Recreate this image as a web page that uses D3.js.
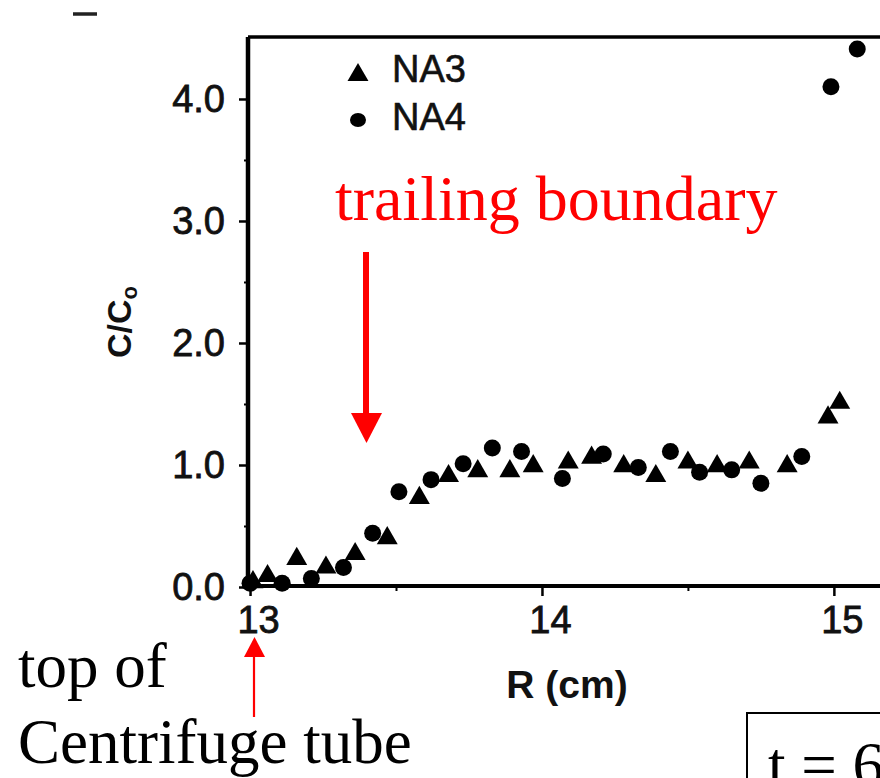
<!DOCTYPE html>
<html>
<head>
<meta charset="utf-8">
<script src="https://cdn.jsdelivr.net/npm/d3@7"></script>
<style>
  html, body { margin: 0; padding: 0; background: #fff; }
  svg { display: block; }
</style>
</head>
<body>
<svg id="chart" width="880" height="778"></svg>
<script>
// Radial position R (cm) and relative concentration C/Co for two samples
const na3R   = [13.01, 13.06, 13.16, 13.26, 13.36, 13.47, 13.58, 13.68, 13.78, 13.89, 13.97,
                14.09, 14.17, 14.28, 14.39, 14.50, 14.60, 14.71, 14.84, 14.98, 15.02];
const na3C   = [0.04, 0.09, 0.23, 0.16, 0.27, 0.40, 0.73, 0.91, 0.95, 0.95, 0.99,
                1.02, 1.06, 0.99, 0.91, 1.02, 0.99, 1.02, 0.99, 1.39, 1.51];
const na4R   = [13.00, 13.11, 13.21, 13.32, 13.42, 13.51, 13.62, 13.73, 13.83, 13.93,
                14.07, 14.21, 14.33, 14.44, 14.54, 14.65, 14.75, 14.89, 14.99, 15.08];
const na4C   = [0.03, 0.03, 0.07, 0.16, 0.44, 0.78, 0.88, 1.01, 1.14, 1.11,
                0.89, 1.09, 0.98, 1.11, 0.94, 0.96, 0.85, 1.07, 4.10, 4.41];

const yTicks      = [0, 1, 2, 3, 4];
const yMinorTicks = [0.5, 1.5, 2.5, 3.5];
const xTicks      = [13, 14, 15];
const xMinorTicks = [13.5, 14.5];
const seriesNames = ["NA3", "NA4"];

const svg = d3.select("#chart");
const sans = "'Liberation Sans', Arial, Helvetica, sans-serif";
const serif = "'Liberation Serif', 'Times New Roman', serif";

const x = d3.scaleLinear().domain([12.993, 15.158]).range([248, 880]);
const y = d3.scaleLinear().domain([0, 4.508]).range([587, 37]);

// Frame: left axis, bottom axis, top border
const frame = svg.append("g").attr("stroke", "#000").attr("fill", "none");
frame.append("line")
  .attr("x1", x.range()[0]).attr("x2", x.range()[0])
  .attr("y1", y.range()[0] + 1).attr("y2", y.range()[1])
  .attr("stroke-width", 4.5);
frame.append("line")
  .attr("x1", x.range()[0]).attr("x2", x.range()[1])
  .attr("y1", y(0) - 1).attr("y2", y(0) - 1)
  .attr("stroke-width", 4);
frame.append("line")
  .attr("x1", x.range()[0]).attr("x2", x.range()[1])
  .attr("y1", y.range()[1]).attr("y2", y.range()[1])
  .attr("stroke-width", 3.5);

// Y axis ticks and labels
const yAxis = d3.axisLeft(y).tickValues(yTicks).tickFormat(d3.format(".1f"))
  .tickSize(9).tickPadding(14).tickSizeOuter(0);
const gy = svg.append("g").attr("transform", `translate(${x.range()[0]},0)`).call(yAxis);
gy.select(".domain").remove();
gy.selectAll(".tick line").attr("stroke", "#000").attr("stroke-width", 2.5);
gy.selectAll(".tick text").attr("font-family", sans).attr("font-size", 38)
  .attr("fill", "#111").attr("stroke", "#111").attr("stroke-width", 0.8);
const yMinor = d3.axisLeft(y).tickValues(yMinorTicks).tickSize(4).tickFormat("").tickSizeOuter(0);
const gym = svg.append("g").attr("transform", `translate(${x.range()[0]},0)`).call(yMinor);
gym.select(".domain").remove();
gym.selectAll(".tick line").attr("stroke", "#000").attr("stroke-width", 2);

// X axis ticks and labels
const xAxis = d3.axisBottom(x).tickValues(xTicks).tickFormat(d3.format("d"))
  .tickSize(9).tickPadding(10).tickSizeOuter(0);
const gx = svg.append("g").attr("transform", `translate(0,${y(0)})`).call(xAxis);
gx.select(".domain").remove();
gx.selectAll(".tick line").attr("stroke", "#000").attr("stroke-width", 2.5);
gx.selectAll(".tick text").attr("font-family", sans).attr("font-size", 38)
  .attr("dx", 8).attr("fill", "#111").attr("stroke", "#111").attr("stroke-width", 0.8);
const xMinor = d3.axisBottom(x).tickValues(xMinorTicks).tickSize(4).tickFormat("").tickSizeOuter(0);
const gxm = svg.append("g").attr("transform", `translate(0,${y(0)})`).call(xMinor);
gxm.select(".domain").remove();
gxm.selectAll(".tick line").attr("stroke", "#000").attr("stroke-width", 2);

// Axis titles
svg.append("text")
  .attr("x", 567).attr("y", 698)
  .attr("text-anchor", "middle")
  .attr("font-family", sans).attr("font-size", 39).attr("font-weight", "bold")
  .attr("fill", "#111")
  .text("R (cm)");

const yTitle = svg.append("text")
  .attr("transform", "translate(131,322) rotate(-90)")
  .attr("text-anchor", "middle")
  .attr("font-family", sans).attr("font-size", 34).attr("font-weight", "bold")
  .attr("fill", "#111");
yTitle.append("tspan").text("C/C");
yTitle.append("tspan").attr("font-size", 22).attr("dy", 6).text("o");

// Data markers
const triangle = d3.symbol().type(d3.symbolTriangle).size(190);
const plot = svg.append("g");
plot.selectAll("path.na3")
  .data(d3.zip(na3R, na3C))
  .join("path")
  .attr("class", "na3")
  .attr("d", triangle)
  .attr("transform", d => `translate(${x(d[0])},${y(d[1])})`)
  .attr("fill", "#000");
plot.selectAll("circle.na4")
  .data(d3.zip(na4R, na4C))
  .join("circle")
  .attr("class", "na4")
  .attr("cx", d => x(d[0]))
  .attr("cy", d => y(d[1]))
  .attr("r", 8.5)
  .attr("fill", "#000");

// Legend
const legend = svg.append("g").attr("transform", "translate(358,0)");
legend.append("path").attr("d", triangle).attr("transform", "translate(0,75)").attr("fill", "#000");
legend.append("ellipse").attr("cx", 0).attr("cy", 120).attr("rx", 8).attr("ry", 7).attr("fill", "#000");
legend.selectAll("text")
  .data(seriesNames)
  .join("text")
  .attr("x", 34)
  .attr("y", (d, i) => 82 + i * 48)
  .attr("font-family", sans).attr("font-size", 38)
  .attr("fill", "#111").attr("stroke", "#111").attr("stroke-width", 0.6)
  .text(d => d);

// Annotations
const red = "#ff0000";
svg.append("text")
  .attr("x", 335).attr("y", 220)
  .attr("font-family", serif).attr("font-size", 64)
  .attr("fill", red)
  .text("trailing boundary");
svg.append("line")
  .attr("x1", 366).attr("x2", 366).attr("y1", 252).attr("y2", 416)
  .attr("stroke", red).attr("stroke-width", 6);
svg.append("path")
  .attr("d", "M351,413 L382,413 L366.5,443 Z")
  .attr("fill", red);

svg.append("line")
  .attr("x1", 254).attr("x2", 254).attr("y1", 717).attr("y2", 655)
  .attr("stroke", red).attr("stroke-width", 2.2);
svg.append("path")
  .attr("d", "M244,657 L265,657 L254.5,637 Z")
  .attr("fill", red);

svg.append("text")
  .attr("x", 18).attr("y", 687)
  .attr("font-family", serif).attr("font-size", 63)
  .attr("fill", "#000")
  .text("top of");
svg.append("text")
  .attr("x", 18).attr("y", 763)
  .attr("font-family", serif).attr("font-size", 63)
  .attr("fill", "#000")
  .text("Centrifuge tube");

// Time box, running past the right and bottom edges
svg.append("rect")
  .attr("x", 747).attr("y", 713).attr("width", 200).attr("height", 120)
  .attr("fill", "none").attr("stroke", "#000").attr("stroke-width", 2);
svg.append("text")
  .attr("x", 768).attr("y", 786)
  .attr("font-family", serif).attr("font-size", 63)
  .attr("fill", "#000")
  .text("t = 6");

// Small stray dash above the plot
svg.append("line")
  .attr("x1", 73).attr("x2", 97).attr("y1", 14).attr("y2", 14)
  .attr("stroke", "#222").attr("stroke-width", 3.5);
</script>
</body>
</html>
